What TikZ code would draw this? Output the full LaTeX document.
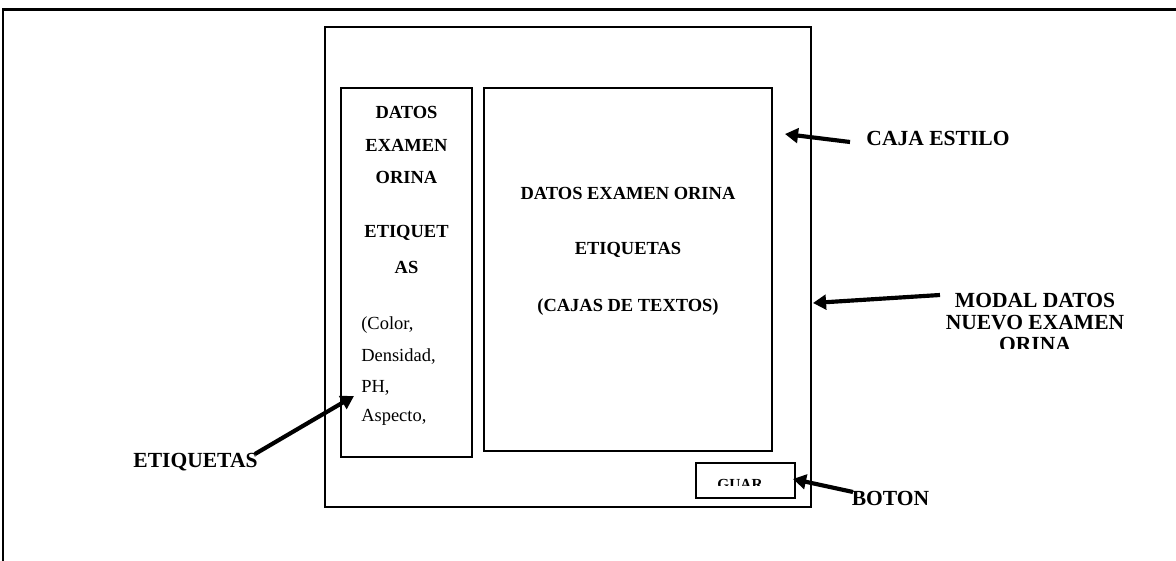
\documentclass[tikz,border=0pt]{standalone}
\usepackage{fontspec}
\setmainfont{Liberation Serif}
\usetikzlibrary{arrows.meta,fit}
\begin{document}
\begin{tikzpicture}[x=0.65pt,y=-0.65pt,
  box/.style={draw, line width=1.5pt, inner sep=0pt},
  paneltitle/.style={font=\fontsize{12}{14}\selectfont\bfseries, inner sep=0pt, anchor=center},
  paneltext/.style={font=\fontsize{12}{14}\selectfont, inner sep=0pt, anchor=west},
  callout/.style={font=\fontsize{14}{14.3}\selectfont\bfseries, inner sep=0pt, align=center},
  pointer/.style={line width=2.7pt, -{Triangle[length=8.5pt,width=9.5pt]}}
]
\clip (0,0) rectangle (1176,561);
\fill[white] (0,0) rectangle (1176,561);
% page frame, running on past the right and bottom edges
\draw[line width=1.5pt] (3,9.5) rectangle (1200,600);

% modal window and its parts
\node (modal) [box, fit={(325,27) (811,507)}] {};
\node (labels) [box, fit={(341,88) (472,457)}] {};
\node (fields) [box, fit={(484,88) (772,451)}] {};
\node (savebtn) [box, fit={(696,463) (795,498)}] {};

% left panel: field labels
\node (l1) [paneltitle] at (406.5,112) {DATOS};
\node (l2) [paneltitle] at (406.5,145) {EXAMEN};
\node (l3) [paneltitle] at (406.5,177) {ORINA};
\node (l4) [paneltitle] at (406.5,233) {ETIQUET};
\node (l5) [paneltitle] at (406.5,267) {AS};
\node (l6) [paneltext] at (361,325) {(Color,};
\node (l7) [paneltext] at (361,357) {Densidad,};
\node (l8) [paneltext] at (361,388) {PH,};
\node (l9) [paneltext] at (361,417) {Aspecto,};

% right panel: text boxes
\node (r1) [paneltitle] at (628,193) {DATOS EXAMEN ORINA};
\node (r2) [paneltitle] at (628,250) {ETIQUETAS};
\node (r3) [paneltitle] at (628,307) {(CAJAS DE TEXTOS)};

% button caption, cut off by its box
\begin{scope}
  \clip (698,470) rectangle (793,486);
  \node (btntext) [font=\fontsize{10}{12}\selectfont\bfseries, inner sep=0pt] at (740,484) {GUAR};
\end{scope}

% callout labels
\node (cajalbl) [callout] at (938,138) {CAJA ESTILO};
\begin{scope}
  \clip (920,280) rectangle (1160,349);
  \node (modallbl) [callout] at (1035,322) {MODAL DATOS\\NUEVO EXAMEN\\ORINA};
\end{scope}
\node (etiqlbl) [callout] at (195.5,462) {ETIQUETAS};
\node (botonlbl) [callout] at (890.5,498) {BOTON};

% pointer ends
\coordinate (cajaTail) at (850,142);
\coordinate (cajaTip) at (785,134);
\coordinate (modalTail) at (940,295);
\coordinate (modalTip) at (813,303);
\coordinate (etiqTail) at (255,454);
\coordinate (etiqTip) at (354,396);
\coordinate (botonTail) at (853,492);
\coordinate (botonTip) at (793,479);

\draw[pointer] (cajaTail) -- (cajaTip);
\draw[pointer] (modalTail) -- (modalTip);
\draw[pointer] (etiqTail) -- (etiqTip);
\draw[pointer] (botonTail) -- (botonTip);
\end{tikzpicture}
\end{document}
